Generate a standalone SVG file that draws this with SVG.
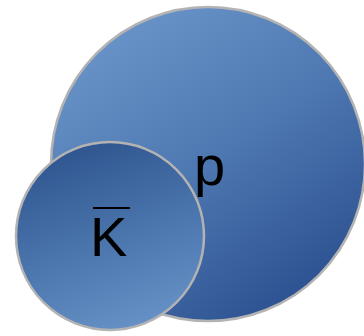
<svg xmlns="http://www.w3.org/2000/svg" width="364" height="336" viewBox="0 0 364 336">
  <defs>
    <linearGradient id="gradBig" x1="0.2" y1="0.05" x2="0.8" y2="0.95">
      <stop offset="0" stop-color="#6994c8"/>
      <stop offset="0.5" stop-color="#4d77b0"/>
      <stop offset="1" stop-color="#2c5090"/>
    </linearGradient>
    <linearGradient id="gradSmall" x1="0.35" y1="0" x2="0.7" y2="1">
      <stop offset="0" stop-color="#2f558f"/>
      <stop offset="0.5" stop-color="#4a74ac"/>
      <stop offset="1" stop-color="#6793c8"/>
    </linearGradient>
  </defs>
  <style>
    .ball { stroke: #b3b3b3; stroke-width: 2.5; }
    .label { font-family: "Liberation Sans", Arial, sans-serif; font-size: 56px; fill: #000000; }
  </style>

  <g id="proton">
    <circle class="ball" cx="208" cy="164" r="157" fill="url(#gradBig)"/>
    <text class="label" x="194" y="185">p</text>
  </g>

  <g id="antikaon">
    <circle class="ball" cx="110" cy="236" r="94" fill="url(#gradSmall)"/>
    <text class="label" x="90" y="256">K</text>
    <line x1="93" y1="208" x2="130" y2="208" stroke="#000000" stroke-width="2.2"/>
  </g>
</svg>
